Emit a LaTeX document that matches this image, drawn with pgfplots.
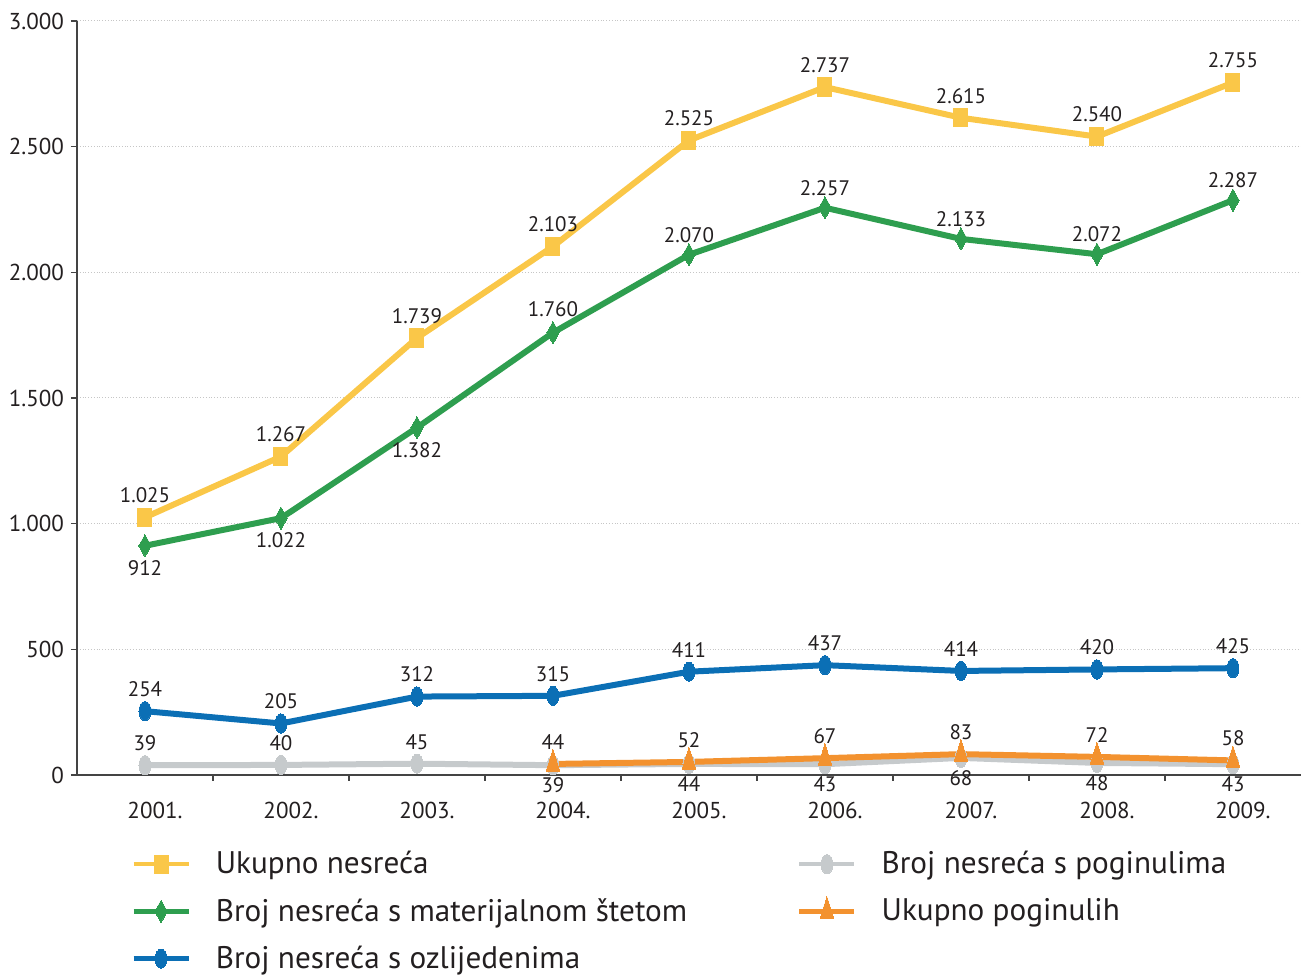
\documentclass[border=0pt]{standalone}
\usepackage{pgfplots}
\pgfplotsset{compat=1.18}
\usepackage{pgfplotstable}
\usetikzlibrary{calc}
\usepackage{fontspec}
\setmainfont{PT Sans}

\definecolor{cyel}{HTML}{FAC748}
\definecolor{cgrn}{HTML}{2E9E4F}
\definecolor{cblu}{HTML}{0B6FB5}
\definecolor{cgry}{HTML}{C6CACC}
\definecolor{corg}{HTML}{F3922F}
\definecolor{txt}{HTML}{231F20}
\definecolor{axl}{HTML}{444444}

% x = year index, y = value, d = label offset (pt)
\pgfplotstableread{
x y d
1 1025 11
2 1267 11
3 1739 11
4 2103 11
5 2525 11
6 2737 11
7 2615 11
8 2540 11
9 2755 11
}\ukupno
\pgfplotstableread{
x y d
1 912 -11
2 1022 -11
3 1382 -11
4 1760 12
5 2070 10
6 2257 10
7 2133 10
8 2072 10
9 2287 10
}\materijal
\pgfplotstableread{
x y d
1 254 11
2 205 11
3 312 11
4 315 11
5 411 11
6 437 11
7 414 11
8 420 11
9 425 11
}\ozlijedeni
\pgfplotstableread{
x y d
1 39 11
2 40 11
3 45 11
4 39 -10
5 44 -10
6 43 -10
7 68 -10
8 48 -10
9 43 -10
}\poginuli
\pgfplotstableread{
x y d
4 44 11
5 52 11
6 67 11
7 83 11
8 72 11
9 58 11
}\ukpoginulih

\begin{document}
\begin{tikzpicture}
\begin{axis}[
    scale only axis,
    width=612pt, height=377pt,
    xmin=0.5, xmax=9.5,
    ymin=0, ymax=3000,
    xtick={1,...,9},
    xticklabels={2001.,2002.,2003.,2004.,2005.,2006.,2007.,2008.,2009.},
    minor xtick={1.5,2.5,...,8.5},
    ytick={0,500,...,3000},
    /pgf/number format/1000 sep={.},
    /pgf/number format/assume math mode=true,
    axis lines=left,
    axis line style={-, axl, line width=0.7pt},
    tick align=outside,
    major x tick style={draw=none},
    minor x tick style={axl, line width=0.7pt},
    major y tick style={axl, line width=0.7pt},
    major tick length=3pt,
    minor tick length=3pt,
    ymajorgrids,
    major y grid style={densely dotted, gray!45, line width=0.5pt},
    ticklabel style={font=\fontsize{11.5}{13}\selectfont, text=txt},
    xticklabel style={yshift=-7pt, xshift=5pt},
    every axis plot/.append style={line width=3pt},
    nodes near coords,
    every node near coord/.append style={anchor=center, yshift=\dy pt,
        font=\fontsize{10.5}{12}\selectfont, text=txt},
    legend columns=2,
    legend cell align=left,
    legend style={draw=none, fill=none, at={(0,0)}, anchor=north west,
        xshift=24pt, yshift=-34pt,
        font=\fontsize{15.6}{17}\selectfont, text=txt, row sep=6.8pt,
        /tikz/every odd column/.append style={column sep=10.5pt},
        /tikz/every even column/.append style={column sep=53pt}},
    legend image code/.code={\draw[mark repeat=2,mark phase=2,line width=2.2pt,#1]
        plot coordinates {(0pt,0pt) (13.75pt,0pt) (27.5pt,0pt)};},
]
\coordinate (bl) at (rel axis cs:0,0);

\addplot[cyel, mark=square*, mark size=3.5pt,
    mark options={solid, line width=0pt, yscale=1.3},
    visualization depends on={\thisrow{d}\as\dy}]
    table[x=x,y=y]{\ukupno};
\addlegendentry{Ukupno nesreća}

\addplot[cgry, mark=*, mark size=3pt,
    mark options={solid, line width=0pt, yscale=1.6},
    visualization depends on={\thisrow{d}\as\dy}]
    table[x=x,y=y]{\poginuli};
\addlegendentry{Broj nesreća s poginulima}

\addplot[cgrn, mark=diamond*, mark size=5.5pt,
    mark options={solid, line width=0pt, xscale=0.75},
    visualization depends on={\thisrow{d}\as\dy}]
    table[x=x,y=y]{\materijal};
\addlegendentry{Broj nesreća s materijalnom štetom}

\addplot[corg, mark=triangle*, mark size=4pt,
    mark options={solid, line width=0pt, yscale=1.8},
    visualization depends on={\thisrow{d}\as\dy}]
    table[x=x,y=y]{\ukpoginulih};
\addlegendentry{Ukupno poginulih}

\addplot[cblu, mark=*, mark size=3pt,
    mark options={solid, line width=0pt, yscale=1.6},
    visualization depends on={\thisrow{d}\as\dy}]
    table[x=x,y=y]{\ozlijedeni};
\addlegendentry{Broj nesreća s ozlijedenima}
\end{axis}
\pgfresetboundingbox
\useasboundingbox ($(bl)+(-38.5pt,-101.5pt)$) rectangle ++(650.5pt,489pt);
\end{tikzpicture}
\end{document}
